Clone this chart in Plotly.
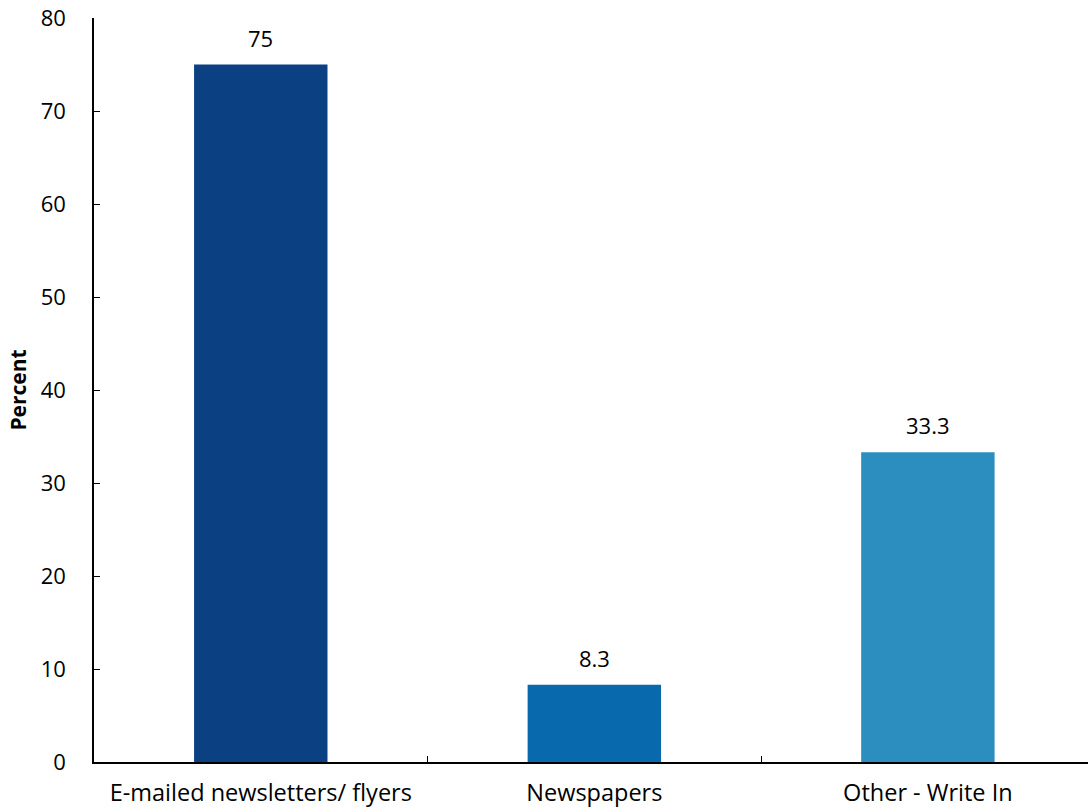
import plotly.graph_objects as go

categories = ["E-mailed newsletters/ flyers", "Newspapers", "Other - Write In"]
values = [75, 8.3, 33.3]
labels = ["75", "8.3", "33.3"]
colors = ["#0b4182", "#0869ad", "#2c8dbf"]
y_ticks = [0, 10, 20, 30, 40, 50, 60, 70, 80]

FONT = "Open Sans"
FS = 23

fig = go.Figure(
    go.Bar(
        x=categories,
        y=values,
        marker=dict(color=colors, line=dict(width=0)),
        width=0.4,
        hoverinfo="skip",
    )
)

for c, v, t in zip(categories, values, labels):
    fig.add_annotation(
        x=c, y=v, text=t, showarrow=False, yanchor="bottom", yshift=10,
        font=dict(family=FONT, size=22, color="black"),
    )

fig.update_layout(
    width=1088,
    height=812,
    margin=dict(l=94, r=0, t=18, b=50),
    paper_bgcolor="white",
    plot_bgcolor="white",
    showlegend=False,
    font=dict(family=FONT, size=FS, color="black"),
)

fig.update_xaxes(
    type="category",
    range=[-0.5, 2.48],
    showline=True,
    linecolor="black",
    linewidth=1.5,
    ticks="inside",
    tickson="boundaries",
    ticklen=6,
    tickcolor="black",
    showgrid=False,
    tickfont=dict(family=FONT, size=23.5),
    ticklabelstandoff=9,
)

fig.update_yaxes(
    range=[0, 80],
    tickvals=y_ticks,
    showline=True,
    linecolor="black",
    linewidth=1.5,
    ticks="inside",
    ticklen=6,
    tickcolor="black",
    showgrid=False,
    zeroline=False,
    tickfont=dict(family=FONT, size=22),
    ticklabelstandoff=22,
    title=dict(text="<b>Percent</b>", font=dict(family=FONT, size=21), standoff=8),
)

fig.write_html(
    "out.html",
    config={"displayModeBar": False},
    post_script="document.body.style.margin='0';",
)
